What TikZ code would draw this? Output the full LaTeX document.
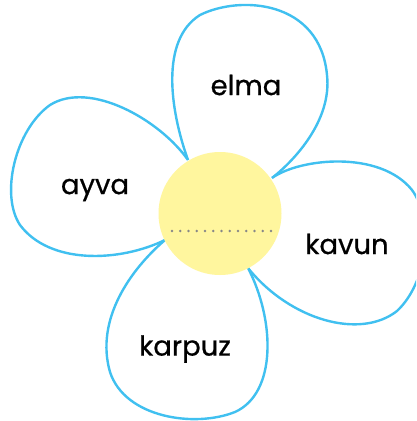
\documentclass[tikz,border=0pt]{standalone}
\usepackage{fontspec}
\setmainfont{Poppins}[FakeBold=0.6]
\definecolor{petalline}{RGB}{64,192,240}
\definecolor{centerfill}{RGB}{255,246,158}
\definecolor{dotgray}{RGB}{135,135,135}
\begin{document}
\begin{tikzpicture}[x=1pt,y=-1pt,
  petal/.style={draw=petalline,line width=2.4pt,fill=white,line join=round},
  word/.style={font=\fontsize{27.5}{32}\selectfont,text=black,inner sep=0pt}]
\useasboundingbox (0,0) rectangle (416,421);
\begin{scope}
\clip (0,0) rectangle (416,421);
% top petal
\draw[petal] (188,160) .. controls (170,110) and (160,40) .. (200,15)
  .. controls (240,-5) and (320,0) .. (327,75)
  .. controls (332,120) and (295,160) .. (272,178);
% left petal
\draw[petal] (165,240) .. controls (120,262) and (50,265) .. (20,225)
  .. controls (0,195) and (15,130) .. (50,105)
  .. controls (90,80) and (160,120) .. (188,160);
% right petal
\draw[petal] (272,178) .. controls (300,158) and (380,150) .. (412,190)
  .. controls (434,220) and (428,282) .. (397,311)
  .. controls (360,340) and (290,320) .. (248,268);
% bottom petal
\draw[petal] (248,268) .. controls (275,320) and (277,393) .. (235,412)
  .. controls (195,428) and (125,418) .. (110,372)
  .. controls (95,320) and (130,270) .. (165,240);
\end{scope}
\fill[centerfill] (220,213.5) circle (61.5);
\foreach \i in {0,...,12}
  \fill[dotgray] (172+\i*8.25,231) circle (1.4);
\node[word] (elma) at (246,85) {elma};
\node[word] (ayva) at (95,190) {ayva};
\node[word] (kavun) at (347,244) {kavun};
\node[word] (karpuz) at (185,349) {karpuz};
\end{tikzpicture}
\end{document}
